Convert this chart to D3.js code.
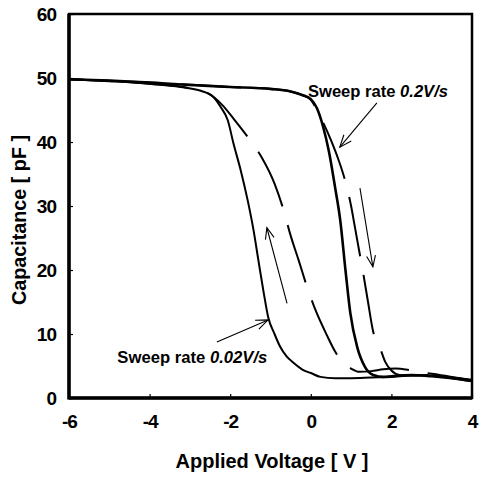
<!DOCTYPE html>
<html>
<head>
<meta charset="utf-8">
<script src="https://cdn.jsdelivr.net/npm/d3@7"></script>
<style>
  body { margin: 0; background: #fff; }
  text { font-family: "Liberation Sans", Arial, sans-serif; font-weight: bold; fill: #000; }
</style>
</head>
<body>
<div id="chart"></div>
<script>
// capacitance [pF] vs applied voltage [V]
var xTicks = [-6, -4, -2, 0, 2, 4];
var yTicks = [0, 10, 20, 30, 40, 50, 60];

// 0.02 V/s sweep, -6 -> 4 (solid)
var slowUp = [[-6,49.8],[-5,49.6],[-4,49.3],[-3,48.9],[-2,48.6],[-1,48.3],[-0.5,47.9],[-0.2,47.3],[0,46.7],
  [0.15,45.3],[0.3,42.5],[0.45,38.5],[0.6,33],[0.73,27.8],[0.86,20],[0.98,13.3],[1.15,8],[1.35,4.8],
  [1.55,3.6],[1.8,3.3],[2.0,3.4],[2.5,3.6],[3,3.4],[3.5,3.1],[4,2.7]];
// 0.02 V/s sweep, 4 -> -6 (solid)
var slowDown = [[-6,49.8],[-5,49.5],[-4,49.1],[-3.23,48.6],[-2.73,48.0],[-2.41,47],[-2.24,45.5],[-2.06,43.4],
  [-1.92,39.8],[-1.74,35.6],[-1.57,31],[-1.42,26.2],[-1.3,21.5],[-1.17,16.5],[-1.06,12.7],[-0.9,10],
  [-0.76,8.0],[-0.6,6.5],[-0.43,5.5],[-0.2,4.4],[0,3.9],[0.24,3.3],[0.6,3.1],[1,3.1],[1.5,3.2],[2,3.3],
  [2.5,3.5],[3,3.5],[3.5,3.1],[4,2.6]];
// 0.2 V/s sweep, -6 -> 4 (dashed)
var fastUp = [[-6,49.8],[-4,49.3],[-2,48.6],[-1,48.3],[-0.5,47.9],[-0.2,47.3],[0,46.6],[0.15,45],[0.31,43],
  [0.5,40.3],[0.7,37],[0.85,34],[1.0,30],[1.1,26.5],[1.22,22.3],[1.3,19.5],[1.42,15],[1.54,10.6],
  [1.72,7.8],[1.85,5.6],[2.0,4.3],[2.2,3.6],[2.5,3.5],[3,3.6],[3.5,3.2],[4,2.8]];
// 0.2 V/s sweep, 4 -> -6 (dashed)
var fastDown = [[-6,49.8],[-4,49.1],[-3,48.4],[-2.58,47.7],[-2.2,45.8],[-1.9,43.5],[-1.51,40.3],[-1.21,37.5],
  [-0.9,33.5],[-0.64,28.6],[-0.52,25.8],[-0.3,21.5],[-0.07,16.9],[0.1,14],[0.4,9.8],[0.6,7.3],[0.8,5.5],
  [1.0,4.6],[1.2,4.1],[1.5,4.2],[1.8,4.5],[2.1,4.6],[2.4,4.4],[2.7,4.0],[3,3.8],[3.5,3.3],[4,2.8]];

// arrows: [tailV, tailC, headV, headC]
var sweepArrows = [[1.22,32.8,1.54,20.5],[-0.59,14.8,-1.09,26.6]];
var labelArrows = [[1.64,46.1,0.72,39.2],[-2.33,8.75,-1.06,12.2]];
var labels = ["Sweep rate ", "Sweep rate "];
var rates = ["0.2V/s", "0.02V/s"];
var labelAt = [[-0.07,47.0],[-4.8,5.5]];
var labelWidth = [140, 150];

var svg = d3.select("#chart").append("svg").attr("width", 479).attr("height", 480);

var x = d3.scaleLinear().domain([-6, 4]).range([69, 472]);
var y = d3.scaleLinear().domain([0, 60]).range([398, 14]);

var line = d3.line().x(function(d){ return x(d[0]); }).y(function(d){ return y(d[1]); })
    .curve(d3.curveMonotoneX);

// frame
svg.append("rect").attr("x", x(-6)).attr("y", y(60))
   .attr("width", x(4) - x(-6)).attr("height", y(0) - y(60))
   .attr("fill", "none").attr("stroke", "#000").attr("stroke-width", 2.5);
svg.append("line").attr("x1", x(-6)).attr("x2", x(-6)).attr("y1", y(60)).attr("y2", y(0) + 1.5)
   .attr("stroke", "#000").attr("stroke-width", 3.5);
svg.append("line").attr("x1", x(-6)).attr("x2", x(4)).attr("y1", y(0)).attr("y2", y(0))
   .attr("stroke", "#000").attr("stroke-width", 3.5);

// axes with small inward ticks
svg.append("g").attr("transform", "translate(0," + y(0) + ")")
   .call(d3.axisBottom(x).tickValues(xTicks).tickSize(-4).tickPadding(17).tickFormat(function(d){ return String(d); }));
svg.append("g").attr("transform", "translate(" + x(-6) + ",0)")
   .call(d3.axisLeft(y).tickValues(yTicks).tickSize(-4).tickPadding(13).tickFormat(function(d){ return String(d); }));
svg.selectAll(".domain").remove();
svg.selectAll(".tick line").attr("stroke", "#000").attr("stroke-width", 1.2);
svg.selectAll(".tick text").style("font-family", '"Liberation Sans", Arial, sans-serif')
   .style("font-weight", "bold").style("font-size", "19px").style("letter-spacing", "-1px").attr("fill", "#000");

svg.append("text").attr("x", 272).attr("y", 468).attr("text-anchor", "middle")
   .attr("textLength", 193).attr("lengthAdjust", "spacingAndGlyphs")
   .style("font-size", "20px").text("Applied Voltage [ V ]");
svg.append("text").attr("transform", "translate(26,220) rotate(-90)").attr("text-anchor", "middle")
   .attr("textLength", 170).attr("lengthAdjust", "spacingAndGlyphs")
   .style("font-size", "20px").text("Capacitance [ pF ]");

// curves
function dashStart(path, v) {
  var node = path.node(), lo = 0, hi = node.getTotalLength(), px = x(v);
  for (var i = 0; i < 40; i++) {
    var mid = (lo + hi) / 2;
    if (node.getPointAtLength(mid).x < px) lo = mid; else hi = mid;
  }
  return (79 - (lo % 79)) % 79;
}

svg.append("path").datum(slowDown).attr("d", line)
   .attr("fill", "none").attr("stroke", "#000").attr("stroke-width", 2);
var fu = svg.append("path").datum(fastUp).attr("d", line)
   .attr("fill", "none").attr("stroke", "#000").attr("stroke-width", 2)
   .attr("stroke-dasharray", "60,19");
fu.attr("stroke-dashoffset", dashStart(fu, 0.31));
var fd = svg.append("path").datum(fastDown).attr("d", line)
   .attr("fill", "none").attr("stroke", "#000").attr("stroke-width", 2)
   .attr("stroke-dasharray", "60,19");
fd.attr("stroke-dashoffset", dashStart(fd, -2.58));
svg.append("path").datum(slowUp).attr("d", line)
   .attr("fill", "none").attr("stroke", "#000").attr("stroke-width", 2.6);

// arrows
function drawArrow(a, size) {
  var x1 = x(a[0]), y1 = y(a[1]), x2 = x(a[2]), y2 = y(a[3]);
  var ang = Math.atan2(y2 - y1, x2 - x1), spread = 0.38;
  var g = svg.append("g").attr("stroke", "#000").attr("stroke-width", 1.1).attr("fill", "none");
  g.append("line").attr("x1", x1).attr("y1", y1).attr("x2", x2).attr("y2", y2);
  g.append("polyline").attr("points", [
    [x2 - size * Math.cos(ang - spread), y2 - size * Math.sin(ang - spread)],
    [x2, y2],
    [x2 - size * Math.cos(ang + spread), y2 - size * Math.sin(ang + spread)]
  ].map(function(p){ return p.join(","); }).join(" "));
}
sweepArrows.forEach(function(a){ drawArrow(a, 12); });
labelArrows.forEach(function(a){ drawArrow(a, 13); });

labels.forEach(function(t, i) {
  var txt = svg.append("text").attr("x", x(labelAt[i][0])).attr("y", y(labelAt[i][1]))
     .attr("textLength", labelWidth[i]).attr("lengthAdjust", "spacingAndGlyphs")
     .style("font-size", "17px");
  txt.append("tspan").text(t);
  txt.append("tspan").style("font-style", "italic").text(rates[i]);
});
</script>
</body>
</html>
